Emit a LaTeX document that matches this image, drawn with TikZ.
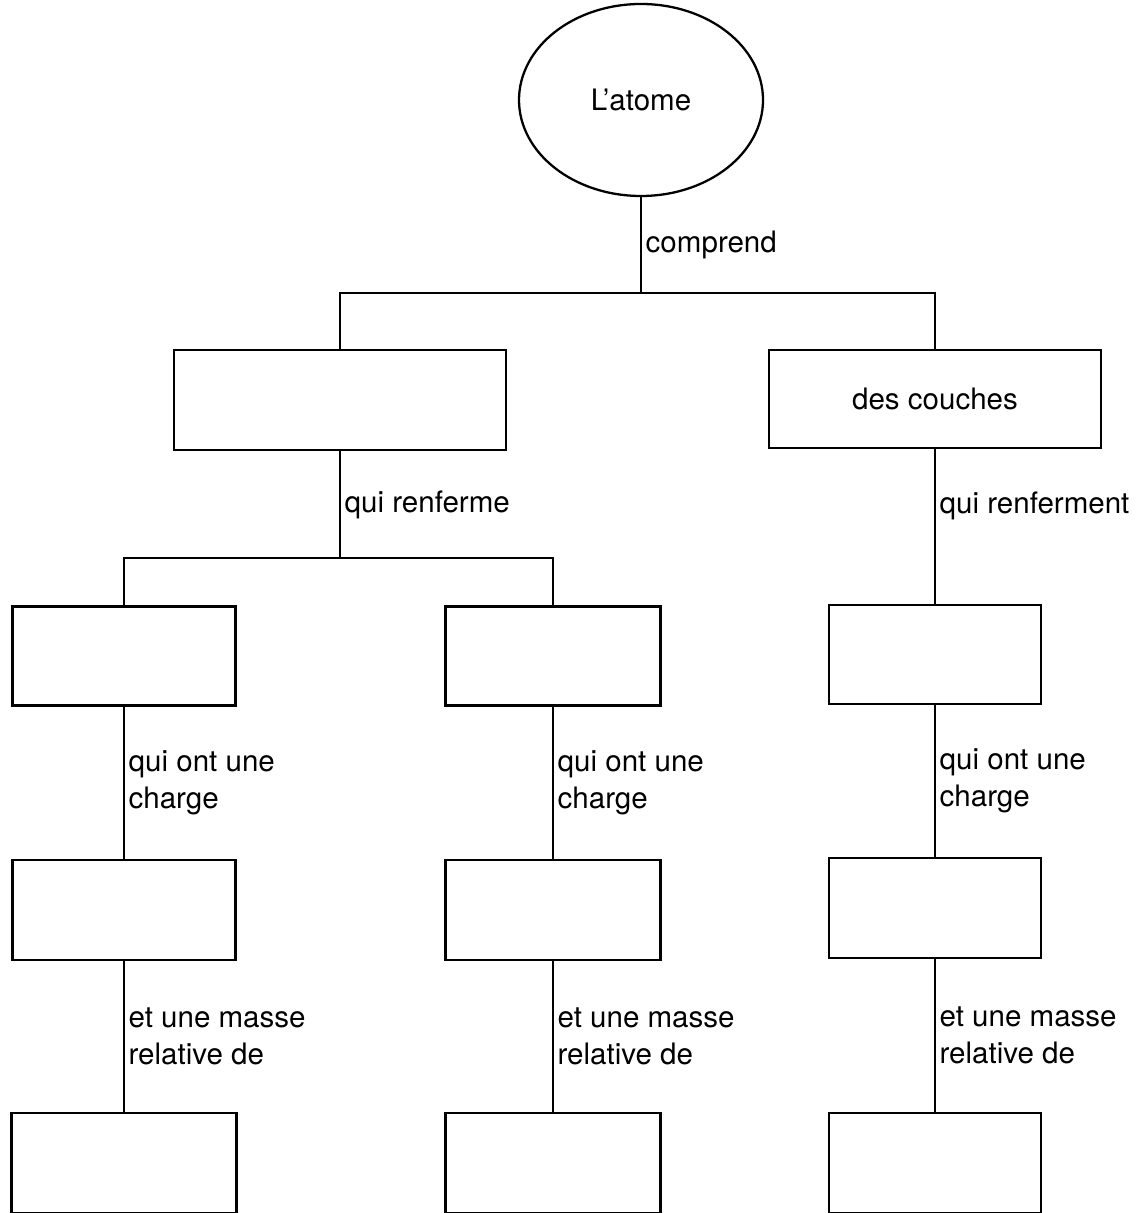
\documentclass[tikz,border=0pt]{standalone}
\usepackage{fontspec}
\setmainfont{TeX Gyre Heros}
\usepackage{tikz}
\usetikzlibrary{shapes.geometric}
\tikzstyle{box} = [draw, line width=1.3pt, rectangle, inner sep=0pt, minimum height=2cm]
\tikzstyle{line} = [draw, line width=1.3pt]
\tikzstyle{lbl} = [right, inner sep=2pt, align=left]

\begin{document}
\begin{tikzpicture}[font=\fontsize{16.8}{21}\selectfont]
    \useasboundingbox (0,0) rectangle (22.78,-24.26);

        \node[draw,ellipse,line width=1.3pt,inner sep=0pt,minimum width=4.88cm,minimum height=3.84cm] (atome) at (12.82,-2.0) {L’atome};

        \node[box,minimum width=6.64cm] (noyau) at (6.8,-8.0) {};
        \node[box,minimum width=6.64cm,minimum height=1.96cm] (couches) at (18.7,-7.98) {des couches};

        \node[box,minimum width=4.46cm,minimum height=1.98cm] (partA) at (2.48,-13.12) {};
        \node[box,minimum width=4.3cm,minimum height=1.98cm] (partB) at (11.06,-13.12) {};
        \node[box,minimum width=4.24cm,minimum height=1.98cm] (partC) at (18.7,-13.09) {};

        \node[box,minimum width=4.46cm] (chargeA) at (2.48,-18.2) {};
        \node[box,minimum width=4.3cm] (chargeB) at (11.06,-18.2) {};
        \node[box,minimum width=4.24cm] (chargeC) at (18.7,-18.16) {};

        \node[box,minimum width=4.5cm] (masseA) at (2.48,-23.26) {};
        \node[box,minimum width=4.3cm] (masseB) at (11.06,-23.26) {};
        \node[box,minimum width=4.24cm] (masseC) at (18.7,-23.26) {};

    % branches
    \coordinate (fork1) at (12.82,-5.86);
    \coordinate (fork2) at (6.8,-11.16);
    \draw[line] (atome) -- node[lbl] (lblcomp) {comprend} (fork1);
    \draw[line] (noyau) |- (fork1) -| (couches);
    \draw[line] (noyau) -- node[lbl] (lblrenf) {qui renferme} (fork2);
    \draw[line] (partA) |- (fork2) -| (partB);
    \draw[line] (couches) -- node[lbl,pos=0.37] (lblrenfC) {qui renferment} (partC);

    \draw[line] (partA) -- node[lbl] (lblchargeA) {qui ont une\\charge} (chargeA);
    \draw[line] (partB) -- node[lbl] (lblchargeB) {qui ont une\\charge} (chargeB);
    \draw[line] (partC) -- node[lbl] (lblchargeC) {qui ont une\\charge} (chargeC);

    \draw[line] (chargeA) -- node[lbl] (lblmasseA) {et une masse\\relative de} (masseA);
    \draw[line] (chargeB) -- node[lbl] (lblmasseB) {et une masse\\relative de} (masseB);
    \draw[line] (chargeC) -- node[lbl] (lblmasseC) {et une masse\\relative de} (masseC);

    \end{tikzpicture}
\end{document}
